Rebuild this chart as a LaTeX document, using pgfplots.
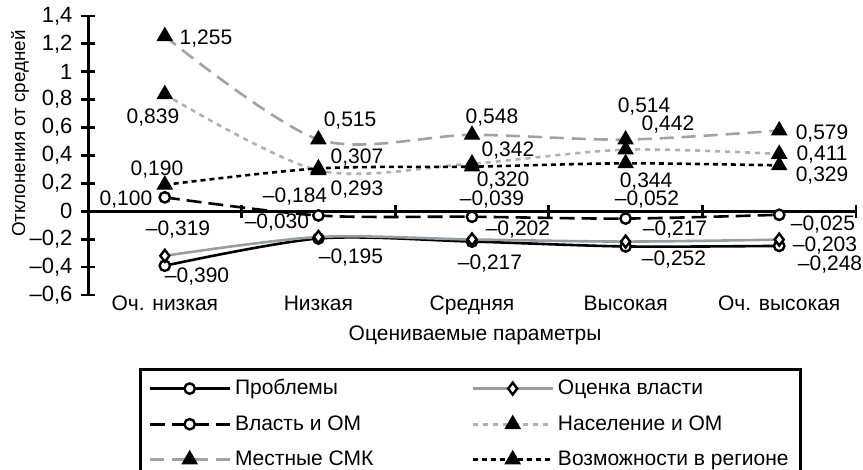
\documentclass[border=0pt]{standalone}
\usepackage{fontspec}
\setmainfont{Liberation Sans}
\usepackage{pgfplots}
\pgfplotsset{compat=1.18}

\definecolor{vgray}{RGB}{150,157,163}
\definecolor{sgray}{RGB}{158,163,168}
\definecolor{ngray}{RGB}{172,177,182}

\begin{document}
\begin{tikzpicture}[lbl/.style={font=\fontsize{10.5}{12}\selectfont, inner sep=0pt}]
\begin{axis}[
  name=ax,
  scale only axis,
  width=384pt, height=139.5pt,
  xmin=-0.5, xmax=4.5, ymin=-0.6, ymax=1.4,
  clip=false,
  axis x line=bottom, axis y line=left,
  axis line style={-, line width=1.5pt},
  x axis line style={draw=none},
  xtick={0,1,2,3,4},
  xticklabels={Оч. низкая, Низкая, Средняя, Высокая, Оч. высокая},
  xtick style={draw=none},
  ytick={-0.6,-0.4,-0.2,0,0.2,0.4,0.6,0.8,1,1.2,1.4},
  yticklabels={{–0,6},{–0,4},{–0,2},0,{0,2},{0,4},{0,6},{0,8},1,{1,2},{1,4}},
  ytick style={line width=1.4pt, black},
  tick align=center,
  major tick length=6.5pt,
  yticklabel style={font=\fontsize{11}{13}\selectfont, xshift=-1pt},
  xticklabel style={font=\fontsize{10.5}{12}\selectfont, yshift=6.5pt},
  label style={font=\fontsize{10.5}{12}\selectfont},
  xlabel={Оцениваемые параметры},
  ylabel={Отклонения от средней},
  xlabel style={at={(axis description cs:0.504,-0.143)}, anchor=center},
  ylabel style={at={(axis description cs:-0.0885,0.578)}, anchor=center,
    font=\fontsize{9.4}{11}\selectfont},
  legend columns=2,
  legend cell align=left,
  legend image code/.code={\draw[mark repeat=2,mark phase=2,#1] plot coordinates {(0pt,0pt) (20pt,0pt) (40pt,0pt)};},
  legend style={at={(axis description cs:0.0664,-0.2616)}, anchor=north west,
    draw=black, line width=1.4pt, font=\fontsize{10.5}{12}\selectfont,
    inner xsep=4pt, inner ysep=3pt, row sep=4.8pt,
    /tikz/every odd column/.append style={column sep=0pt},
    /tikz/every even column/.append style={column sep=47pt}},
]
\draw[line width=1.5pt] (axis cs:-0.5,0) -- (axis cs:4.5,0);
\pgfplotsinvokeforeach{0.5,1.5,2.5,3.5,4.5}{
  \draw[line width=1.4pt] ([yshift=-3.25pt]axis cs:#1,0) -- ([yshift=3.25pt]axis cs:#1,0);
}

% Проблемы
\addplot[black, line width=1.3pt, smooth, mark=*, mark size=2.6pt,
  mark options={solid, fill=white, draw=black, line width=1.2pt}]
  coordinates {(0,-0.390) (1,-0.195) (2,-0.217) (3,-0.252) (4,-0.248)};
\addlegendentry{Проблемы}
% Оценка власти
\addplot[vgray, line width=1.3pt, smooth, mark=diamond*, mark size=3pt,
  mark options={solid, fill=white, draw=black, line width=1.2pt}]
  coordinates {(0,-0.319) (1,-0.184) (2,-0.202) (3,-0.217) (4,-0.203)};
\addlegendentry{Оценка власти}
% Власть и ОМ
\addplot[black, line width=1.3pt, smooth, dash pattern=on 7.5pt off 3.5pt,
  mark=*, mark size=2.6pt,
  mark options={solid, fill=white, draw=black, line width=1.2pt}]
  coordinates {(0,0.100) (1,-0.030) (2,-0.039) (3,-0.052) (4,-0.025)};
\addlegendentry{Власть и ОМ}
% Население и ОМ
\addplot[ngray, line width=1.3pt, smooth, dash pattern=on 2.5pt off 2.5pt,
  mark=triangle*, mark size=4.3pt,
  mark options={solid, fill=black, draw=black, line width=0.5pt}]
  coordinates {(0,0.839) (1,0.293) (2,0.342) (3,0.442) (4,0.411)};
\addlegendentry{Население и ОМ}
% Местные СМК
\addplot[sgray, line width=1.3pt, smooth, dash pattern=on 7pt off 4pt,
  mark=triangle*, mark size=4.3pt,
  mark options={solid, fill=black, draw=black, line width=0.5pt}]
  coordinates {(0,1.255) (1,0.515) (2,0.548) (3,0.514) (4,0.579)};
\addlegendentry{Местные СМК}
% Возможности в регионе
\addplot[black, line width=1.3pt, smooth, dash pattern=on 2.5pt off 2pt,
  mark=triangle*, mark size=4.3pt,
  mark options={solid, fill=black, draw=black, line width=0.5pt}]
  coordinates {(0,0.190) (1,0.307) (2,0.320) (3,0.344) (4,0.329)};
\addlegendentry{Возможности в регионе}

% value labels
\node[lbl] at (axis cs:0.268,1.235) {1,255};
\node[lbl] at (axis cs:-0.077,0.669) {0,839};
\node[lbl] at (axis cs:-0.051,0.296) {0,190};
\node[lbl] at (axis cs:-0.253,0.081) {0,100};
\node[lbl] at (axis cs:0.086,-0.134) {–0,319};
\node[lbl] at (axis cs:0.210,-0.471) {–0,390};
\node[lbl] at (axis cs:0.848,0.103) {–0,184};
\node[lbl] at (axis cs:0.730,-0.077) {–0,030};
\node[lbl] at (axis cs:1.206,0.654) {0,515};
\node[lbl] at (axis cs:1.251,0.389) {0,307};
\node[lbl] at (axis cs:1.251,0.153) {0,293};
\node[lbl] at (axis cs:1.212,-0.328) {–0,195};
\node[lbl] at (axis cs:2.130,0.669) {0,548};
\node[lbl] at (axis cs:2.234,0.439) {0,342};
\node[lbl] at (axis cs:2.202,0.224) {0,320};
\node[lbl] at (axis cs:2.130,0.088) {–0,039};
\node[lbl] at (axis cs:2.299,-0.134) {–0,202};
\node[lbl] at (axis cs:2.117,-0.371) {–0,217};
\node[lbl] at (axis cs:3.120,0.748) {0,514};
\node[lbl] at (axis cs:3.276,0.619) {0,442};
\node[lbl] at (axis cs:3.133,0.210) {0,344};
\node[lbl] at (axis cs:3.139,0.081) {–0,052};
\node[lbl] at (axis cs:3.322,-0.134) {–0,217};
\node[lbl] at (axis cs:3.315,-0.349) {–0,252};
\node[lbl] at (axis cs:4.279,0.561) {0,579};
\node[lbl] at (axis cs:4.279,0.404) {0,411};
\node[lbl] at (axis cs:4.279,0.260) {0,329};
\node[lbl] at (axis cs:4.285,-0.098) {–0,025};
\node[lbl] at (axis cs:4.298,-0.242) {–0,203};
\node[lbl] at (axis cs:4.331,-0.385) {–0,248};
\end{axis}
\pgfresetboundingbox
\useasboundingbox ([shift={(-44pt,-87pt)}]ax.south west) rectangle ([shift={(3.5pt,8pt)}]ax.north east);
\end{tikzpicture}
\end{document}
